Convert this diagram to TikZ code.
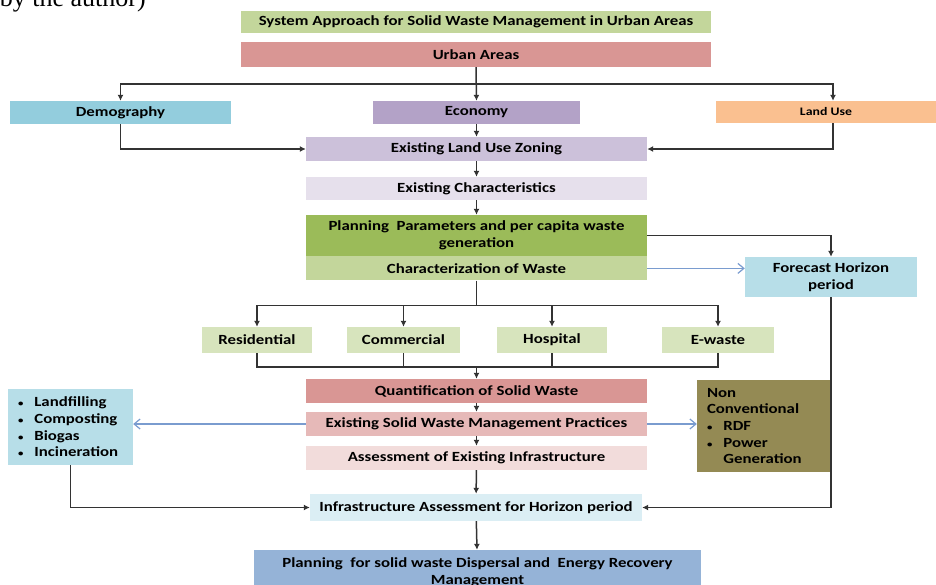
\documentclass[tikz,border=0pt]{standalone}
\usepackage{fontspec}
\setmainfont{Carlito}[FakeStretch=1.2]
\newfontfamily\capfont{Liberation Serif}
\usepackage{xcolor}
\usepackage{tikz}
\usetikzlibrary{positioning,arrows.meta,calc}

\definecolor{titlegreen}{HTML}{C3D69B}
\definecolor{urbanred}{HTML}{D99694}
\definecolor{demoblue}{HTML}{93CDDD}
\definecolor{econpurple}{HTML}{B3A2C7}
\definecolor{landorange}{HTML}{FAC090}
\definecolor{zonelilac}{HTML}{CCC1DA}
\definecolor{charlilac}{HTML}{E6E0EC}
\definecolor{plangreen}{HTML}{9BBB59}
\definecolor{catgreen}{HTML}{D7E4BD}
\definecolor{practpink}{HTML}{E6B9B8}
\definecolor{assesspink}{HTML}{F2DCDB}
\definecolor{forecastblue}{HTML}{B7DEE8}
\definecolor{infrablue}{HTML}{DBEEF4}
\definecolor{finalblue}{HTML}{95B3D7}
\definecolor{olivebox}{HTML}{948A54}
\definecolor{linkblue}{HTML}{7A9CCF}
\newcommand{\bul}{{\fontsize{9}{9}\selectfont\textbullet}\hspace{11pt}}

\begin{document}
\begin{tikzpicture}[
    x=1pt, y=-1pt,
    box/.style={minimum height=24pt, inner sep=1pt, align=center, font=\fontsize{14}{16.7}\selectfont\bfseries},
    colbox/.style={box, minimum width=341pt},
    catbox/.style={box, fill=catgreen, minimum height=26pt},
    listbox/.style={box, align=left, inner xsep=10pt},
    arr/.style={-{Latex[length=6pt,width=6pt]}, line width=1.5pt, black!80},
    line/.style={line width=1.5pt, black!80},
    barr/.style={-{Straight Barb[length=6pt,width=10pt]}, line width=1.2pt, linkblue}
]
\useasboundingbox (0,0) rectangle (936,584);

% Caption remnant
\node[anchor=base west, inner sep=0, font=\capfont\fontsize{26}{26}\selectfont] (cap) at (-9,6) {(by the author)};

% Top flow
\node[box, fill=titlegreen, minimum width=470pt, minimum height=22pt] (title) at (476,22) {System Approach for Solid Waste Management in Urban Areas};
\node[box, fill=urbanred, minimum width=470pt, minimum height=25pt] (urban) at (476,54.5) {Urban Areas};

\node[box, fill=demoblue, minimum width=221pt, minimum height=23pt] (demo) at (120.5,112.5) {Demography};
\node[box, fill=econpurple, minimum width=207pt, minimum height=23pt] (econ) at (476.5,112.5) {Economy};
\node[box, fill=landorange, minimum width=220pt, minimum height=22pt, font=\fontsize{11.5}{13}\selectfont\bfseries] (land) at (826,112) {Land Use};

\node[colbox, fill=zonelilac] (zoning) at (476.5,149) {Existing Land Use Zoning};
\node[colbox, fill=charlilac, minimum height=23pt] (charac) at (476.5,188.5) {Existing Characteristics};
\node[colbox, fill=plangreen, minimum height=41pt] (plan) at (476.5,235.5) {Planning\ \ Parameters and per capita waste\\generation};
\node[colbox, fill=titlegreen, below=0pt of plan] (waste) {Characterization of Waste};
\node[box, fill=forecastblue, minimum width=172pt, minimum height=40pt] (forecast) at (831,277) {Forecast Horizon\\period};

% Waste categories
\node[catbox, minimum width=110pt] (res) at (257,340) {Residential};
\node[catbox, minimum width=113pt] (com) at (403.5,340) {Commercial};
\node[catbox, minimum width=110pt] (hosp) at (552,340) {Hospital};
\node[catbox, minimum width=112pt] (ew) at (718,340) {E-waste};

% Lower flow
\node[colbox, fill=urbanred] (quant) at (476.5,391) {Quantification of Solid Waste};
\node[colbox, fill=practpink] (pract) at (476.5,424) {Existing Solid Waste Management Practices};
\node[colbox, fill=assesspink] (assess) at (476.5,458) {Assessment of Existing Infrastructure};
\node[box, fill=infrablue, minimum width=332pt, minimum height=27pt] (infra) at (476,507.5) {Infrastructure Assessment for Horizon period};
\node[box, fill=finalblue, minimum width=447pt, minimum height=44pt] (final) at (477.5,572) {Planning\ \ for solid waste Dispersal and\ \ Energy Recovery\\Management};

% Side options
\node[listbox, fill=forecastblue, text width=105pt, minimum height=76pt] (methods) at (70.5,427) {\bul Landfilling\\\bul Composting\\\bul Biogas\\\bul Incineration};
\node[listbox, fill=olivebox, text width=115pt, minimum height=92pt] (noncon) at (764.5,426) {Non\\Conventional\\\bul RDF\\\bul Power\\\hphantom{\bul}Generation};

% Connectors
\coordinate (ua) at ($(urban.south)!0.5!(econ.north)$);
\draw[arr] (urban.south) -- (econ.north);
\draw[arr] (ua) -| (demo.north);
\draw[arr] (ua) -| ([xshift=7pt]land.north);
\draw[arr] (demo.south) |- (zoning.west);
\draw[arr] ([xshift=7pt]land.south) |- (zoning.east);
\draw[arr] (econ) -- (zoning);
\draw[arr] (zoning) -- (charac);
\draw[arr] (charac) -- (plan);
\draw[arr] (plan.east) -| (forecast.north);
\draw[barr] (waste.east) -- (waste.east -| forecast.west);
\draw[arr] (forecast.south) |- (infra.east);

\coordinate (wa) at ($(waste.south)+(0,25)$);
\coordinate (cq) at ($(res.south -| quant.north)+(0,14)$);
\draw[line] (waste.south) -- (wa);
\foreach \n in {res,com,hosp,ew} {
    \draw[arr] (wa) -| (\n.north);
    \draw[line] (\n.south) |- (cq);
}
\draw[arr] (cq) -- (quant.north);

\draw[arr] (quant) -- (pract);
\draw[arr] (pract) -- (assess);
\draw[barr] (pract.west) -- (pract.west -| methods.east);
\draw[barr] (pract.east) -- (pract.east -| noncon.west);
\draw[arr] (methods.south) |- (infra.west);
\draw[arr] (assess) -- (infra);
\draw[arr] (infra) -- (final);
\end{tikzpicture}
\end{document}
